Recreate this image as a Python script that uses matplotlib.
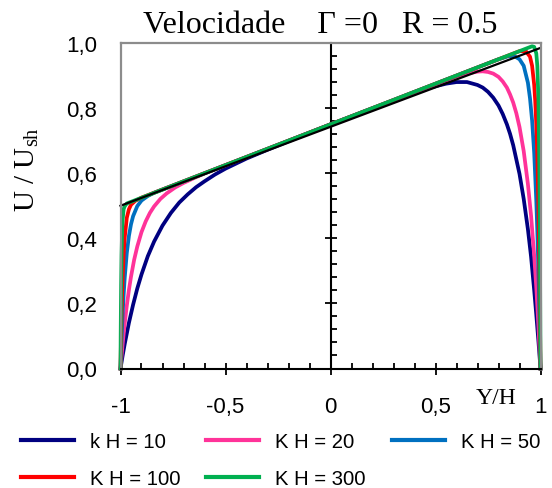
import matplotlib.pyplot as plt
from matplotlib.ticker import MultipleLocator

plt.rcParams['font.family'] = ['Liberation Sans', 'DejaVu Sans']
plt.rcParams['mathtext.fontset'] = 'custom'
plt.rcParams['mathtext.rm'] = 'Liberation Serif'

# velocity profiles U/Ush vs Y/H for several kH
x10 = [-1.0, -0.99, -0.98, -0.96, -0.94, -0.92, -0.90, -0.87, -0.84, -0.80, -0.76, -0.72,
       -0.68, -0.64, -0.60, -0.55, -0.50, -0.40, -0.30, 0.0, 0.40, 0.45, 0.50, 0.55, 0.60, 0.65,
       0.70, 0.725, 0.75, 0.775, 0.80, 0.82, 0.84, 0.855, 0.87, 0.90, 0.92, 0.94, 0.955, 0.97,
       0.98, 0.99, 1.0]
u10 = [0.0, 0.039, 0.075, 0.140, 0.196, 0.246, 0.289, 0.345, 0.390, 0.439, 0.478, 0.510,
       0.535, 0.557, 0.575, 0.596, 0.614, 0.645, 0.672, 0.750, 0.847, 0.858, 0.867, 0.875, 0.880, 0.880,
       0.871, 0.863, 0.850, 0.832, 0.808, 0.782, 0.750, 0.721, 0.686, 0.598, 0.521, 0.428, 0.344, 0.240,
       0.165, 0.085, 0.0]

x20 = [-1.0, -0.995, -0.99, -0.98, -0.97, -0.96, -0.95, -0.935, -0.92, -0.90, -0.88, -0.86,
       -0.84, -0.81, -0.78, -0.74, -0.70, -0.65, -0.60, -0.50, 0.0, 0.60, 0.65, 0.70, 0.725, 0.75,
       0.775, 0.80, 0.82, 0.84, 0.855, 0.87, 0.885, 0.90, 0.92, 0.94, 0.955, 0.97, 0.98, 0.99, 1.0]
u20 = [0.0, 0.039, 0.074, 0.138, 0.193, 0.241, 0.282, 0.334, 0.375, 0.419, 0.452, 0.478,
       0.498, 0.521, 0.538, 0.556, 0.570, 0.585, 0.599, 0.624, 0.750, 0.897, 0.906, 0.912, 0.913, 0.911,
       0.906, 0.896, 0.882, 0.863, 0.842, 0.817, 0.784, 0.742, 0.668, 0.567, 0.470, 0.346, 0.248, 0.133, 0.0]

x50 = [-1.0, -0.998, -0.995, -0.99, -0.985, -0.98, -0.97, -0.96, -0.95, -0.94, -0.92, -0.90,
       -0.87, -0.84, -0.80, 0.0, 0.80, 0.85, 0.88, 0.90, 0.92, 0.94, 0.95, 0.96, 0.97, 0.98,
       0.985, 0.99, 0.995, 1.0]
u50 = [0.0, 0.038, 0.091, 0.166, 0.227, 0.278, 0.355, 0.407, 0.443, 0.468, 0.499, 0.516,
       0.530, 0.540, 0.550, 0.750, 0.950, 0.960, 0.958, 0.950, 0.930, 0.878, 0.830, 0.762, 0.662, 0.515,
       0.420, 0.305, 0.165, 0.0]

x100 = [-1.0, -0.999, -0.9975, -0.995, -0.9925, -0.99, -0.985, -0.98, -0.97, -0.96, -0.95,
        -0.93, -0.90, 0.0, 0.90, 0.93, 0.95, 0.96, 0.97, 0.975, 0.98, 0.985, 0.99, 0.995, 1.0]
u100 = [0.0, 0.0385, 0.0905, 0.165, 0.226, 0.277, 0.351, 0.402, 0.463, 0.489, 0.503,
        0.515, 0.525, 0.750, 0.975, 0.975, 0.958, 0.930, 0.871, 0.821, 0.749, 0.648, 0.502, 0.295, 0.0]

x300 = [-1.0, -0.9995, -0.999, -0.998, -0.997, -0.995, -0.9925, -0.99, -0.985, -0.98, -0.97,
        0.0, 0.96, 0.97, 0.98, 0.985, 0.99, 0.995, 0.9975, 1.0]
u300 = [0.0, 0.056, 0.106, 0.190, 0.2565, 0.350, 0.418, 0.457, 0.490, 0.4985, 0.507,
        0.750, 0.990, 0.988, 0.968, 0.929, 0.833, 0.592, 0.362, 0.0]

# reference straight profile
x_lin = [-1.0, 1.0]
u_lin = [0.5, 0.985]

labels = ['k H = 10', 'K H = 20', 'K H = 50', 'K H = 100', 'K H = 300']
colors = ['#000080', '#FF3399', '#0070C0', '#FF0000', '#00B050']

xticks = [-1, -0.5, 0, 0.5, 1]
xticklabels = ['-1', '-0,5', '0', '0,5', '1']
yticks = [0.0, 0.2, 0.4, 0.6, 0.8, 1.0]
yticklabels = ['0,0', '0,2', '0,4', '0,6', '0,8', '1,0']

fig = plt.figure(figsize=(5.52, 4.89), dpi=100)
ax = fig.add_axes([120.5 / 552, 1 - 369.5 / 489, 420 / 552, 325.5 / 489])

lines = []
for xs, us, c, lab in zip([x10, x20, x50, x100, x300], [u10, u20, u50, u100, u300], colors, labels):
    ln, = ax.plot(xs, us, color=c, lw=2.7, clip_on=False, solid_joinstyle='round', label=lab)
    lines.append(ln)
ax.plot(x_lin, u_lin, color='black', lw=1.6, clip_on=False)

ax.set_xlim(-1, 1)
ax.set_ylim(0, 1)

for s in ['left', 'top', 'right']:
    ax.spines[s].set_color('#8c8c8c')
    ax.spines[s].set_linewidth(1.6)
ax.spines['bottom'].set_color('black')
ax.spines['bottom'].set_linewidth(1.5)

ax.set_xticks(xticks)
ax.set_xticklabels(xticklabels)
ax.xaxis.set_minor_locator(MultipleLocator(0.1))
ax.tick_params(axis='x', which='major', direction='inout', length=8, width=1.3, pad=16, labelsize=16)
ax.tick_params(axis='x', which='minor', direction='in', length=4, width=1.3)
ax.set_yticks(yticks)
ax.set_yticklabels(yticklabels)
ax.tick_params(axis='y', length=0, pad=17, labelsize=16)

# vertical axis through Y/H = 0
sec = ax.secondary_yaxis(0.5)
sec.set_yticks(yticks)
sec.yaxis.set_minor_locator(MultipleLocator(0.04))
sec.tick_params(which='major', direction='inout', length=8, width=1.3, labelright=False, labelleft=False)
sec.tick_params(which='minor', direction='out', length=4, width=1.3)
sec.spines['right'].set_color('black')
sec.spines['right'].set_linewidth(1.5)

fig.text(320 / 552, 1 - 33 / 489, 'Velocidade    \u0393 =0   R = 0.5', family='Liberation Serif',
         fontsize=23, ha='center', va='baseline')
fig.text(27 / 552, 1 - 170 / 489, r'U / U$_{\mathrm{sh}}$', family='Liberation Serif',
         fontsize=21, rotation=90, ha='center', va='center')
fig.text(496 / 552, 1 - 404 / 489, 'Y/H', family='Liberation Serif', fontsize=17,
         ha='center', va='baseline')

order = [0, 3, 1, 4, 2]
leg = fig.legend([lines[i] for i in order], [labels[i] for i in order], ncol=3,
                 loc='upper left', bbox_to_anchor=(21 / 552, 1 - 433 / 489), frameon=False,
                 fontsize=14.6, handlelength=2.61, handletextpad=0.79, columnspacing=1.28,
                 labelspacing=0.88, borderpad=0, borderaxespad=0)
for h in leg.legend_handles:
    h.set_linewidth(3)

fig.savefig('out.png', dpi=100)
